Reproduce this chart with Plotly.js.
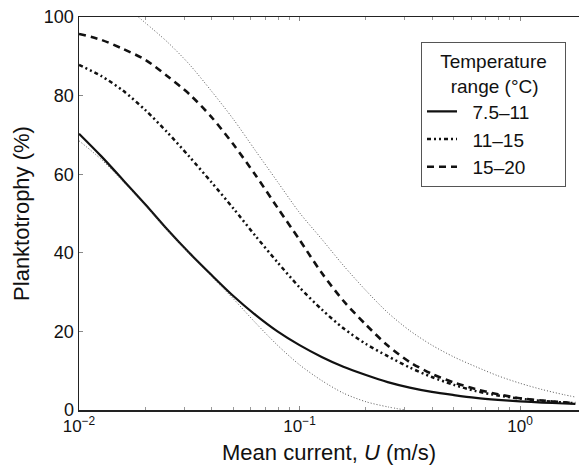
<!DOCTYPE html>
<html>
<head>
<meta charset="utf-8">
<script src="https://cdn.plot.ly/plotly-3.0.1.min.js"></script>
<style>html,body{margin:0;padding:0;background:#fff;}#chart{width:579px;height:467px;}</style>
</head>
<body>
<div id="chart"></div>
<script>
// Mean current U (m/s), sampled on a log grid (10^-2 ... 10^0.25)
var uVals = [0.01, 0.0126, 0.0158, 0.02, 0.0251, 0.0316, 0.0398, 0.0501, 0.0631, 0.0794,
             0.1, 0.126, 0.158, 0.2, 0.251, 0.316, 0.398, 0.501, 0.631, 0.794,
             1.0, 1.26, 1.58, 1.78];
// Planktotrophy (%) per temperature range
var temp7to11  = [70.3, 64.6, 58.6, 52.3, 46.0, 40.0, 34.4, 29.0, 24.2, 20.0,
                  16.5, 13.5, 11.0, 8.9, 7.1, 5.7, 4.6, 3.8, 3.1, 2.6,
                  2.2, 1.9, 1.65, 1.55];
var temp11to15 = [87.8, 85.0, 81.3, 76.3, 70.7, 64.5, 58.0, 51.3, 44.3, 37.6,
                  31.2, 25.6, 20.8, 16.8, 13.7, 10.8, 8.4, 6.4, 4.8, 3.7,
                  2.9, 2.3, 1.9, 1.7];
var temp15to20 = [95.7, 94.2, 91.9, 89.1, 85.0, 80.4, 74.6, 67.6, 59.8, 51.5,
                  43.3, 34.9, 27.8, 21.7, 16.4, 12.2, 9.2, 7.0, 5.3, 4.0,
                  3.0, 2.4, 1.95, 1.75];
// Upper and lower bounds (thin dotted)
var upperU = [0.0186, 0.02, 0.0251, 0.0316, 0.0398, 0.0501, 0.0631, 0.0794, 0.1, 0.126,
              0.158, 0.2, 0.251, 0.316, 0.398, 0.501, 0.631, 0.794, 1.0, 1.26, 1.58, 1.78];
var upperVals = [100, 98.5, 93.7, 88.0, 81.2, 74.0, 66.0, 58.1, 50.2, 43.5,
                 36.8, 30.4, 24.8, 20.2, 16.5, 13.5, 11.0, 8.7, 6.8, 5.2, 3.9, 3.3];
var lowerU = [0.01, 0.0126, 0.0158, 0.02, 0.0251, 0.0316, 0.0398, 0.0501, 0.0631, 0.0794,
              0.1, 0.126, 0.158, 0.2, 0.251, 0.302];
var lowerVals = [68.5, 63.8, 58.2, 52.0, 45.8, 39.8, 34.0, 28.3, 22.2, 16.5,
                 11.5, 7.5, 4.3, 2.1, 0.8, 0.0];
var seriesNames = ['7.5\u201311', '11\u201315', '15\u201320'];
var legendTitleLines = ['Temperature', 'range (\u00b0C)'];
var xTickVals = [0.01, 0.1, 1];
var xTickText = ['10<sup>\u22122</sup>', '10<sup>\u22121</sup>', '10<sup>0</sup>'];
var minorTickVals = [0.02,0.03,0.04,0.05,0.06,0.07,0.08,0.09,0.2,0.3,0.4,0.5,0.6,0.7,0.8,0.9];

function nb(n) { return '\u00a0'.repeat(n); }
var pad = nb(2);
var legendTitle = nb(3) + legendTitleLines[0] + nb(3) + '<br>' + nb(5) + legendTitleLines[1];
var font = 'Liberation Sans, Arial, Helvetica, sans-serif';
var traces = [
  {x: uVals, y: temp7to11, name: pad + seriesNames[0], mode: 'lines',
   line: {color: '#111', width: 2.2, dash: 'solid', shape: 'spline', smoothing: 0.8}},
  {x: uVals, y: temp11to15, name: pad + seriesNames[1], mode: 'lines',
   line: {color: '#111', width: 2.5, dash: '4px,3px,2px,3px,2px,3px', shape: 'spline', smoothing: 0.8}},
  {x: uVals, y: temp15to20, name: pad + seriesNames[2], mode: 'lines',
   line: {color: '#111', width: 2.6, dash: '7px,5px', shape: 'spline', smoothing: 0.8}},
  {x: upperU, y: upperVals, mode: 'lines', showlegend: false, hoverinfo: 'skip',
   line: {color: '#555', width: 1, dash: '1px,2px', shape: 'spline', smoothing: 0.8}},
  {x: lowerU, y: lowerVals, mode: 'lines', showlegend: false, hoverinfo: 'skip',
   line: {color: '#555', width: 1, dash: '1px,2px', shape: 'spline', smoothing: 0.8}}
];

var layout = {
  width: 579, height: 467,
  margin: {l: 79, r: 0, t: 17, b: 57},
  paper_bgcolor: '#fff', plot_bgcolor: '#fff',
  font: {family: font, color: '#111', size: 17},
  showlegend: true,
  legend: {
    x: 0.684, y: 0.936, xanchor: 'left', yanchor: 'top',
    bordercolor: '#555', borderwidth: 1, bgcolor: '#fff',
    font: {family: font, size: 19, color: '#111'},
    title: {text: legendTitle, side: 'top center',
            font: {family: font, size: 19, color: '#111'}},
    itemwidth: 30, tracegroupgap: 0
  },
  xaxis: {
    type: 'log', range: [-2, Math.log10(1.85)],
    tickmode: 'array', tickvals: xTickVals, ticktext: xTickText,
    ticks: 'inside', ticklen: 4, tickcolor: '#888', tickwidth: 1,
    minor: {tickmode: 'array', tickvals: minorTickVals, ticks: 'inside', ticklen: 3, tickcolor: '#999', tickwidth: 1, showgrid: false},
    showline: true, linecolor: '#222', linewidth: 1.5, mirror: 'ticks',
    showgrid: false, zeroline: false,
    tickfont: {family: font, size: 17, color: '#111'},
    title: {text: 'Mean current, <i>U</i> (m/s)', font: {family: font, size: 22, color: '#111'}, standoff: 9}
  },
  yaxis: {
    range: [0, 100], tickvals: [0, 20, 40, 60, 80, 100],
    ticks: 'inside', ticklen: 4, tickcolor: '#888',
    showline: true, linecolor: '#222', linewidth: 1.5, mirror: false,
    showgrid: false, zeroline: false,
    tickfont: {family: font, size: 18, color: '#111'},
    title: {text: 'Planktotrophy (%)', font: {family: font, size: 22, color: '#111'}, standoff: 8}
  }
};

Plotly.newPlot('chart', traces, layout, {displayModeBar: false, staticPlot: true});
</script>
</body>
</html>
